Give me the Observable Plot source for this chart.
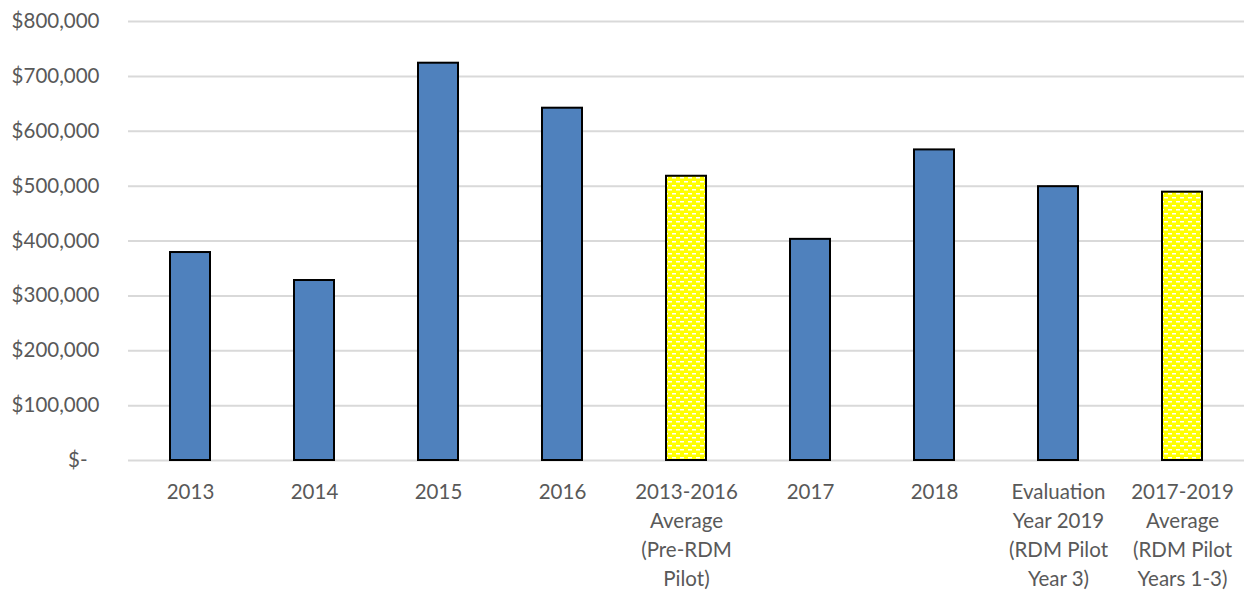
<!DOCTYPE html>
<html>
<head>
<meta charset="utf-8">
<script src="https://cdn.jsdelivr.net/npm/d3@7"></script>
<script src="https://cdn.jsdelivr.net/npm/@observablehq/plot@0.6"></script>
<style>
  body { margin: 0; background: #fff; }
</style>
</head>
<body>
<div id="chart"></div>
<script>
// Categories (multi-line labels use \n)
const categories = [
  "2013",
  "2014",
  "2015",
  "2016",
  "2013-2016\nAverage\n(Pre-RDM\nPilot)",
  "2017",
  "2018",
  "Evaluation\nYear 2019\n(RDM Pilot\nYear 3)",
  "2017-2019\nAverage\n(RDM Pilot\nYears 1-3)"
];

// Annual values in dollars
const values = [379000, 328000, 724000, 642000, 518000, 403000, 566000, 499000, 489000];

// Which categories are multi-year averages (drawn with the yellow pattern)
const isAverage = [false, false, false, false, true, false, false, false, true];

// Y-axis ticks
const yTicks = [0, 100000, 200000, 300000, 400000, 500000, 600000, 700000, 800000];

const rows = categories.map((c, i) => ({category: c, value: values[i], average: isAverage[i]}));
const annual = rows.filter(d => !d.average);
const averages = rows.filter(d => d.average);

const dollar = d3.format(",");
const yFormat = d => d === 0 ? "$-\u2007" : "$" + dollar(d);

const chart = Plot.plot({
  width: 1248,
  height: 592,
  marginTop: 21,
  marginBottom: 132,
  marginLeft: 128,
  marginRight: 4,
  style: {
    fontFamily: "Lato, 'Open Sans', sans-serif",
    fontSize: "20.5px",
    color: "#595959",
    background: "#fff"
  },
  x: {domain: categories, paddingInner: 0.68, paddingOuter: 0.34, label: null},
  y: {domain: [0, 800000], label: null},
  marks: [
    Plot.gridY(yTicks, {stroke: "#d9d9d9", strokeOpacity: 1, strokeWidth: 2}),
    Plot.barY(annual, {x: "category", y: "value", fill: "#4f81bd", stroke: "#000", strokeWidth: 2}),
    Plot.barY(averages, {x: "category", y: "value", fill: "url(#yellowDash)", stroke: "#000", strokeWidth: 2}),
    Plot.axisY(yTicks, {tickSize: 0, tickPadding: 29, tickFormat: yFormat, fill: "#595959"}),
    Plot.axisX({tickSize: 0, tickPadding: 18, lineHeight: 1.42, fill: "#595959"})
  ]
});

// Yellow fill with small white dashes for the average bars
const ns = "http://www.w3.org/2000/svg";
const defs = document.createElementNS(ns, "defs");
defs.innerHTML = `
  <pattern id="yellowDash" patternUnits="userSpaceOnUse" width="8" height="8">
    <rect width="8" height="8" fill="#ffff00"></rect>
    <rect x="0" y="1" width="4" height="1.5" fill="#ffffff"></rect>
    <rect x="4" y="5" width="4" height="1.5" fill="#ffffff"></rect>
  </pattern>`;
chart.insertBefore(defs, chart.firstChild);

document.getElementById("chart").appendChild(chart);
</script>
</body>
</html>
